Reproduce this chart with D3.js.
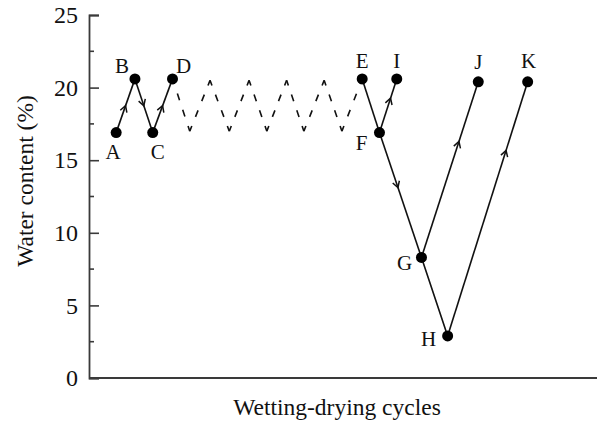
<!DOCTYPE html>
<html>
<head>
<meta charset="utf-8">
<script src="https://cdn.jsdelivr.net/npm/d3@7"></script>
<style>
  body { margin: 0; background: #fff; }
  svg { display: block; }
  text { font-family: "Liberation Serif", "Times New Roman", serif; fill: #111; }
</style>
</head>
<body>
<div id="chart"></div>
<script>
// points of the wetting-drying path
const pointNames = ['A', 'B', 'C', 'D', 'E', 'F', 'I', 'G', 'H', 'J', 'K'];
const cycleX = [5.5, 9.3, 12.9, 16.9, 55.3, 58.8, 62.3, 67.3, 72.6, 78.8, 88.8];
const water = [16.9, 20.6, 16.9, 20.6, 20.6, 16.9, 20.6, 8.3, 2.9, 20.4, 20.4];

// repeated cycles between D and E (dashed)
const zigX = [16.9, 20.4, 24.5, 28.4, 32.4, 36.0, 40.0, 43.5, 47.6, 51.2, 55.3];
const zigY = [20.6, 17.0, 20.5, 17.0, 20.5, 17.0, 20.5, 17.0, 20.5, 17.0, 20.6];

// solid links: from, to, where the arrow sits (null = no arrow)
const links = [
    ['A', 'B', 0.5], ['B', 'C', 0.5], ['C', 'D', 0.5],
    ['E', 'F', null], ['F', 'I', 0.64], ['F', 'G', 0.44],
    ['G', 'H', null], ['G', 'J', 0.66], ['H', 'K', 0.73],
];

const yTicks = [0, 5, 10, 15, 20, 25];
const yMinor = [2.5, 7.5, 12.5, 17.5, 22.5];

// label placement next to each point (layout only)
const labelOffsets = {
    A: [-3, 26], B: [-13, -6], C: [5, 26], D: [11, -6], E: [0, -11],
    F: [-18, 17], I: [0, -11], G: [-17, 13], H: [-19, 10], J: [0, -13], K: [1, -14],
};

const width = 597;
const height = 432;
const margin = { top: 15, right: 14, bottom: 54, left: 89 };

const svg = d3.select('#chart')
    .append('svg')
    .attr('width', width)
    .attr('height', height);

const xScale = d3.scaleLinear()
    .domain([0, 100])
    .range([margin.left, width - margin.right]);

const yScale = d3.scaleLinear()
    .domain([0, 25])
    .range([height - margin.bottom, margin.top]);

const axisColor = '#3a3a3a';

// y axis with inward ticks
const yAxis = svg.append('g')
    .attr('transform', `translate(${margin.left}, 0)`)
    .call(d3.axisLeft(yScale).tickValues(yTicks).tickSize(-10).tickPadding(11));
yAxis.select('.domain').attr('stroke', axisColor).attr('stroke-width', 1.8);
yAxis.selectAll('.tick line').attr('stroke', axisColor).attr('stroke-width', 1.6);
yAxis.selectAll('.tick text')
    .attr('font-size', 24)
    .attr('font-family', '"Liberation Serif", serif')
    .attr('fill', '#111');

svg.append('g')
    .selectAll('line')
    .data(yMinor)
    .join('line')
    .attr('x1', margin.left)
    .attr('x2', margin.left + 5)
    .attr('y1', (d) => yScale(d))
    .attr('y2', (d) => yScale(d))
    .attr('stroke', axisColor)
    .attr('stroke-width', 1.6);

// x axis: plain line, no ticks
svg.append('line')
    .attr('x1', margin.left)
    .attr('x2', width)
    .attr('y1', yScale(0))
    .attr('y2', yScale(0))
    .attr('stroke', axisColor)
    .attr('stroke-width', 1.8);

svg.append('text')
    .attr('x', 337)
    .attr('y', 415)
    .attr('text-anchor', 'middle')
    .attr('font-size', 23.5)
    .text('Wetting-drying cycles');

svg.append('text')
    .attr('transform', 'translate(33, 181) rotate(-90)')
    .attr('text-anchor', 'middle')
    .attr('font-size', 23.5)
    .text('Water content (%)');

const pts = {};
pointNames.forEach((n, i) => { pts[n] = { x: cycleX[i], y: water[i] }; });

// dashed zigzag: each leg drawn alone so the corners get a dash
const zig = d3.zip(zigX, zigY);
const legs = d3.pairs(zig);
svg.append('g')
    .selectAll('line')
    .data(legs)
    .join('line')
    .attr('x1', (d) => xScale(d[0][0]))
    .attr('y1', (d) => yScale(d[0][1]))
    .attr('x2', (d) => xScale(d[1][0]))
    .attr('y2', (d) => yScale(d[1][1]))
    .attr('stroke', '#111')
    .attr('stroke-width', 1.6)
    .attr('stroke-dasharray', (d) => {
        const len = Math.hypot(xScale(d[1][0]) - xScale(d[0][0]), yScale(d[1][1]) - yScale(d[0][1]));
        const c = 5.5, m = 7;
        const g = (len - 2 * c - 2 * m) / 3;
        return [c, g, m, g, m, g, c].join(',');
    });

// solid links
svg.append('g')
    .selectAll('line')
    .data(links)
    .join('line')
    .attr('x1', (d) => xScale(pts[d[0]].x))
    .attr('y1', (d) => yScale(pts[d[0]].y))
    .attr('x2', (d) => xScale(pts[d[1]].x))
    .attr('y2', (d) => yScale(pts[d[1]].y))
    .attr('stroke', '#111')
    .attr('stroke-width', 1.6);

// open chevron arrows along links
function chevron(d) {
    const x0 = xScale(pts[d[0]].x), y0 = yScale(pts[d[0]].y);
    const x1 = xScale(pts[d[1]].x), y1 = yScale(pts[d[1]].y);
    const len = Math.hypot(x1 - x0, y1 - y0);
    const ux = (x1 - x0) / len, uy = (y1 - y0) / len;
    const nx = -uy, ny = ux;
    const px = x0 + (x1 - x0) * d[2], py = y0 + (y1 - y0) * d[2];
    const L = 6, W = 3.5;
    return `M${px - ux * L + nx * W},${py - uy * L + ny * W}L${px},${py}L${px - ux * L - nx * W},${py - uy * L - ny * W}`;
}
svg.append('g')
    .selectAll('path')
    .data(links.filter((d) => d[2] !== null))
    .join('path')
    .attr('d', chevron)
    .attr('fill', 'none')
    .attr('stroke', '#111')
    .attr('stroke-width', 1.5);

// points
svg.append('g')
    .selectAll('circle')
    .data(pointNames)
    .join('circle')
    .attr('cx', (n) => xScale(pts[n].x))
    .attr('cy', (n) => yScale(pts[n].y))
    .attr('r', 5.5)
    .attr('fill', '#000');

svg.append('g')
    .selectAll('text')
    .data(pointNames)
    .join('text')
    .attr('x', (n) => xScale(pts[n].x) + labelOffsets[n][0])
    .attr('y', (n) => yScale(pts[n].y) + labelOffsets[n][1])
    .attr('text-anchor', 'middle')
    .attr('font-size', 21)
    .text((n) => n);
</script>
</body>
</html>
